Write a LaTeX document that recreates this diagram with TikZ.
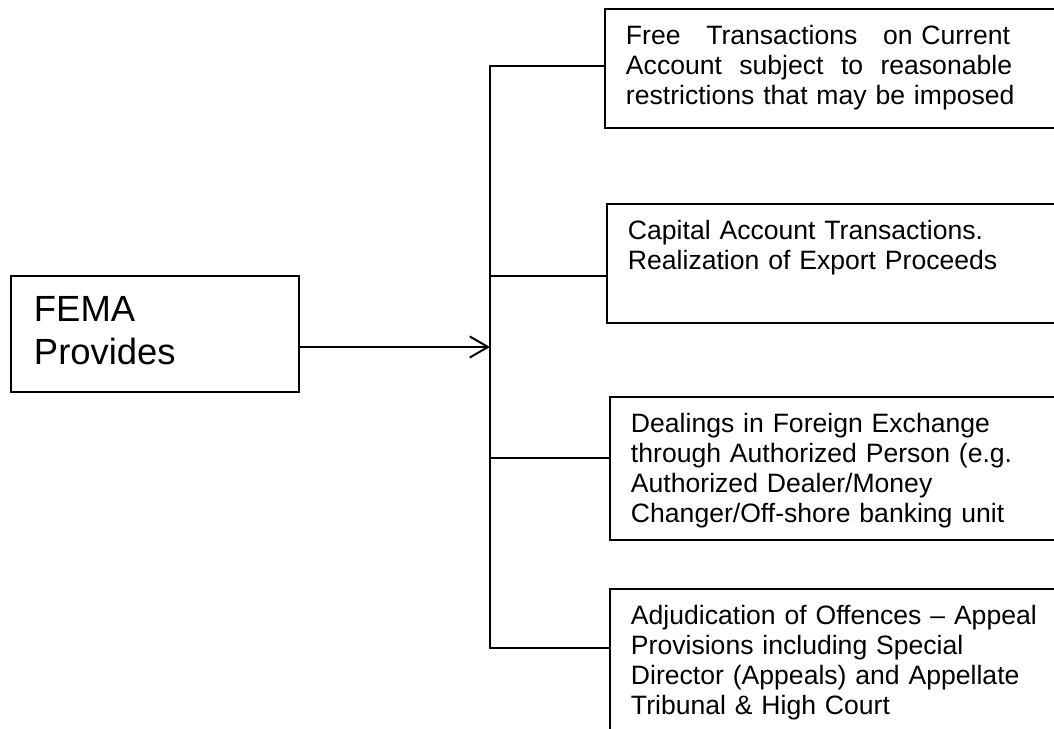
\documentclass[tikz,border=0pt]{standalone}
\usepackage{fontspec}
\setmainfont{Liberation Sans}
\usetikzlibrary{arrows.meta}

\begin{document}
\begin{tikzpicture}[x=0.025cm, y=-0.025cm, line width=1.4pt,
    >={Straight Barb[length=13pt,width=15pt]},
    femabox/.style={draw, anchor=north west, inner xsep=0.575cm, inner ysep=0pt, text width=6.05cm, align=left, text height=1.15cm, text depth=1.75cm, font=\fontsize{25.9pt}{29.9pt}\selectfont},
    itembox/.style={draw, anchor=north west, inner xsep=0.525cm, inner ysep=0pt, text width=10.5cm, align=left, text height=0.9cm, font=\fontsize{18.9pt}{21.3pt}\selectfont}]
  \useasboundingbox (0,0) rectangle (1054,729);
  \clip (0,0) rectangle (1054,729);
  \node[femabox] (fema) at (10,275) {FEMA\\Provides};
  \node[itembox, text depth=2.075cm] (free) at (604,8) {\makebox[9.6cm][l]{Free\hfill Transactions\hfill on Current}\\\makebox[9.65cm][l]{Account\hfill subject\hfill to\hfill reasonable}\\restrictions that may be imposed};
  \node[itembox, text depth=2.075cm] (capital) at (606,203) {Capital Account Transactions.\\Realization of Export Proceeds};
  \node[itembox, text depth=2.675cm] (dealings) at (609,396) {Dealings in Foreign Exchange\\through Authorized Person (e.g.\\Authorized Dealer/Money\\Changer/Off-shore banking unit};
  \node[itembox, text depth=3.75cm] (court) at (609,588) {Adjudication of Offences -- Appeal\\Provisions including Special\\Director (Appeals) and Appellate\\Tribunal \& High Court};
  \coordinate (hub) at (490,347);
  \coordinate (t1) at (490,66);
  \coordinate (t2) at (490,276);
  \coordinate (t3) at (490,458);
  \coordinate (t4) at (490,648);
  \draw (t1 -| free.west) -- (t1) -- (t4) -- (t4 -| court.west);
  \draw (t2) -- (t2 -| capital.west);
  \draw (t3) -- (t3 -| dealings.west);
  \draw[->] (fema.east |- hub) -- (hub);
\end{tikzpicture}
\end{document}
